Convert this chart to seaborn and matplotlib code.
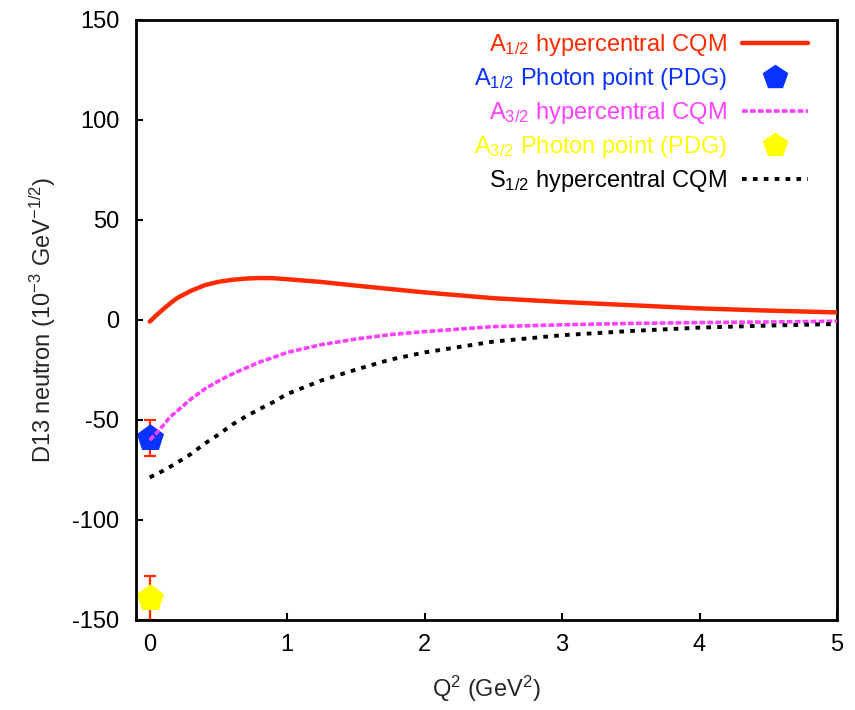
import matplotlib
matplotlib.use("Agg")
import matplotlib.pyplot as plt
import seaborn as sns
import pandas as pd
from matplotlib.lines import Line2D

# ---- data ----
q2 = [0, 0.05, 0.1, 0.15, 0.2, 0.3, 0.4, 0.5, 0.6, 0.7, 0.8, 0.9, 1.0,
      1.25, 1.5, 1.75, 2.0, 2.5, 3.0, 3.5, 4.0, 4.5, 5.0]
a12_cqm = [-0.8, 2.5, 5.5, 8.4, 11, 14.6, 17.4, 19.1, 20.1, 20.7, 21.0, 20.9, 20.4,
           19.0, 17.2, 15.5, 13.8, 10.9, 9.0, 7.4, 5.8, 4.7, 3.8]
a32_cqm = [-60, -56.5, -52.5, -48.3, -45.5, -39.5, -34.5, -30.5, -27, -24, -21, -18.7, -16.2,
           -12.3, -9.5, -7.3, -5.8, -3.3, -2.4, -1.7, -1.3, -1.0, -0.6]
s12_cqm = [-78.7, -77, -75.3, -73.3, -71.3, -67, -61.8, -57.3, -52.3, -48.2, -44.5, -41, -37,
           -30.2, -24.8, -19.8, -16.2, -10.8, -7.6, -5.5, -3.8, -2.8, -2.0]
photon_q2 = [0.0]
a12_pdg = [-59]
a12_pdg_err = [9]
a32_pdg = [-139]
a32_pdg_err = [11]

labels = ["A$_{1/2}$ hypercentral CQM", "A$_{1/2}$ Photon point (PDG)",
          "A$_{3/2}$ hypercentral CQM", "A$_{3/2}$ Photon point (PDG)",
          "S$_{1/2}$ hypercentral CQM"]
colors = ["#ff2a00", "#0a32ff", "#ff40ff", "#ffff00", "#000000"]
xticks = [0, 1, 2, 3, 4, 5]
yticks = [-150, -100, -50, 0, 50, 100, 150]

# ---- style ----
sns.set_theme(style="white")
plt.rcParams["font.family"] = ["Liberation Sans", "DejaVu Sans"]
plt.rcParams["mathtext.fontset"] = "custom"
plt.rcParams["mathtext.rm"] = "Liberation Sans"
plt.rcParams["mathtext.it"] = "Liberation Sans:italic"
plt.rcParams["mathtext.default"] = "regular"
plt.rcParams["axes.unicode_minus"] = False

fig = plt.figure(figsize=(8.55, 7.10), dpi=100)
ax = fig.add_axes([136 / 855, 90 / 710, (837 - 136) / 855, (620 - 20) / 710])

df = pd.DataFrame({"q2": q2, "a12": a12_cqm, "a32": a32_cqm, "s12": s12_cqm})

# error bars (red) and pentagon points, drawn beneath the curves
ax.errorbar(photon_q2, a12_pdg, yerr=a12_pdg_err, fmt="none", ecolor=colors[0],
            elinewidth=1.6, capsize=4.5, capthick=1.6, zorder=1)
ax.errorbar(photon_q2, a32_pdg, yerr=a32_pdg_err, fmt="none", ecolor=colors[0],
            elinewidth=1.6, capsize=4.5, capthick=1.6, zorder=1)
sns.scatterplot(x=photon_q2, y=a12_pdg, ax=ax, marker="p", s=420, color=colors[1],
                edgecolor=colors[1], linewidth=0, zorder=2)
sns.scatterplot(x=photon_q2, y=a32_pdg, ax=ax, marker="p", s=420, color=colors[3],
                edgecolor=colors[3], linewidth=0, zorder=2)

sns.lineplot(data=df, x="q2", y="a12", ax=ax, color=colors[0], lw=3.2, zorder=3)
sns.lineplot(data=df, x="q2", y="a32", ax=ax, color=colors[2], lw=2.6,
             linestyle=(0, (1.6, 0.6)), zorder=3)
sns.lineplot(data=df, x="q2", y="s12", ax=ax, color=colors[4], lw=2.8,
             linestyle=(0, (1.2, 1.6)), zorder=3)

ax.set_xlim(-0.1, 5)
ax.set_ylim(-150, 150)
ax.set_xticks(xticks)
ax.set_yticks(yticks)
ax.tick_params(direction="in", length=5, width=1.5, labelsize=17, colors="black",
               left=True, bottom=True)
ax.tick_params(axis="y", pad=12)
ax.tick_params(axis="x", pad=10)
for sp in ax.spines.values():
    sp.set_color("black")
    sp.set_linewidth(2)

ax.set_xlabel("Q$^2$ (GeV$^2$)", fontsize=17, labelpad=13)
ax.set_ylabel("D13 neutron (10$^{-3}$ GeV$^{-1/2}$)", fontsize=17, labelpad=10)

handles = [
    Line2D([], [], color=colors[0], lw=3.2),
    Line2D([], [], color=colors[1], marker="p", ms=18, lw=0),
    Line2D([], [], color=colors[2], lw=2.6, linestyle=(0, (1.6, 0.6))),
    Line2D([], [], color=colors[3], marker="p", ms=18, lw=0),
    Line2D([], [], color=colors[4], lw=2.8, linestyle=(0, (1.2, 1.6))),
]
leg = ax.legend(handles, labels, loc="upper right", frameon=False, markerfirst=False,
                fontsize=17, handlelength=2.8, handletextpad=0.6, labelspacing=0.34,
                borderaxespad=0.2, borderpad=0.3, bbox_to_anchor=(0.975, 1.0))
for t, c in zip(leg.get_texts(), colors):
    t.set_color(c)
    t.set_ha("right")

fig.savefig("out.png", dpi=100)
